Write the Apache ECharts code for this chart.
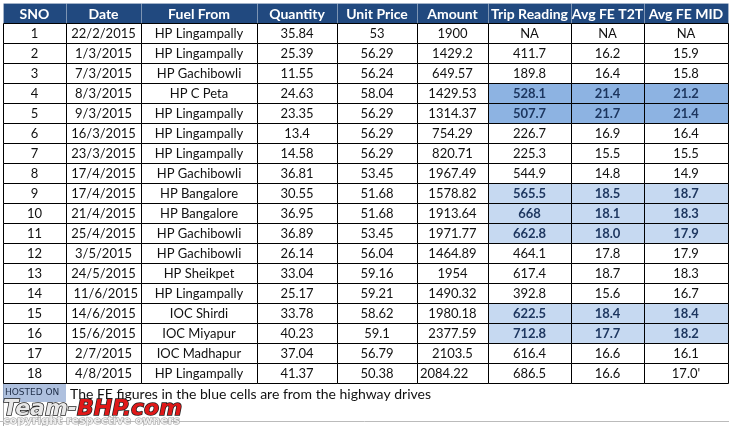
<!DOCTYPE html>
<html>
<head>
<meta charset="utf-8">
<title>Fuel log</title>
<script src="https://cdn.jsdelivr.net/npm/echarts@6/dist/echarts.min.js"></script>
<style>
  html, body { margin: 0; padding: 0; background: #fff; }
  #chart { width: 729px; height: 426px; }
</style>
</head>
<body>
<div id="chart"></div>
<script>
  // table data
  var headers = ['SNO', 'Date', 'Fuel From', 'Quantity', 'Unit Price', 'Amount', 'Trip Reading', 'Avg FE T2T', 'Avg FE MID'];
  var sno = ['1','2','3','4','5','6','7','8','9','10','11','12','13','14','15','16','17','18'];
  var dates = ['22/2/2015','1/3/2015','7/3/2015','8/3/2015','9/3/2015','16/3/2015','23/3/2015','17/4/2015','17/4/2015',
    '21/4/2015','25/4/2015','3/5/2015','24/5/2015','11/6/2015','14/6/2015','15/6/2015','2/7/2015','4/8/2015'];
  var fuelFrom = ['HP Lingampally','HP Lingampally','HP Gachibowli','HP C Peta','HP Lingampally','HP Lingampally',
    'HP Lingampally','HP Gachibowli','HP Bangalore','HP Bangalore','HP Gachibowli','HP Gachibowli','HP Sheikpet',
    'HP Lingampally','IOC Shirdi','IOC Miyapur','IOC Madhapur','HP Lingampally'];
  var quantity = ['35.84','25.39','11.55','24.63','23.35','13.4','14.58','36.81','30.55','36.95','36.89','26.14',
    '33.04','25.17','33.78','40.23','37.04','41.37'];
  var unitPrice = ['53','56.29','56.24','58.04','56.29','56.29','56.29','53.45','51.68','51.68','53.45','56.04',
    '59.16','59.21','58.62','59.1','56.79','50.38'];
  var amount = ['1900','1429.2','649.57','1429.53','1314.37','754.29','820.71','1967.49','1578.82','1913.64',
    '1971.77','1464.89','1954','1490.32','1980.18','2377.59','2103.5','2084.22'];
  var tripReading = ['NA','411.7','189.8','528.1','507.7','226.7','225.3','544.9','565.5','668','662.8','464.1',
    '617.4','392.8','622.5','712.8','616.4','686.5'];
  var avgFeT2T = ['NA','16.2','16.4','21.4','21.7','16.9','15.5','14.8','18.5','18.1','18.0','17.8','18.7','15.6',
    '18.4','17.7','16.6','16.6'];
  var avgFeMid = ['NA','15.9','15.8','21.2','21.4','16.4','15.5','14.9','18.7','18.3','17.9','17.9','18.3','16.7',
    '18.4','18.2','16.1',"17.0'"];

  // rows (by SNO) whose FE cells are shaded blue
  var highwayDark = [4, 5];
  var highwayLight = [9, 10, 11, 15, 16];
  var note = 'The FE figures in the blue cells are from the highway drives';

  var columns = [sno, dates, fuelFrom, quantity, unitPrice, amount, tripReading, avgFeT2T, avgFeMid];

  // layout: column edges in px, from table left
  var colEdges = [0, 63, 138, 254, 334, 414, 485, 568, 641, 725];
  // excel alignment quirks  "row,col"
  var alignFix = { '14,1': 'right', '18,5': 'left' };

  var cells = [];
  for (var r = 0; r <= sno.length; r++) {
    for (var c = 0; c < headers.length; c++) {
      cells.push([c, r]);
    }
  }

  function renderCell(params, api) {
    var col = api.value(0), row = api.value(1);
    var p0 = api.coord([colEdges[col], row]);
    var p1 = api.coord([colEdges[col + 1], row + 1]);
    var x0 = Math.round(p0[0]), y0 = Math.round(p0[1]);
    var x1 = Math.round(p1[0]), y1 = Math.round(p1[1]);
    var text, fill = '#fff', stroke = '#000', color = '#111', font = '13px Lato';

    if (row === 0) {
      text = headers[col];
      fill = '#21497f';
      stroke = 'rgba(255,255,255,0.18)';
      color = '#fff';
      font = 'bold 14px Lato';
    } else {
      text = columns[col][row - 1];
      if (col >= 6 && highwayDark.indexOf(row) >= 0) {
        fill = '#8db3e2'; color = '#1c355e'; font = 'bold 13px Lato';
      } else if (col >= 6 && highwayLight.indexOf(row) >= 0) {
        fill = '#c6d9f1'; color = '#1c355e'; font = 'bold 13px Lato';
      }
    }

    var align = alignFix[row + ',' + col] || 'center';
    var tx = align === 'center' ? (x0 + x1) / 2 : (align === 'right' ? x1 - 3 : x0 + 3);

    return {
      type: 'group',
      children: [{
        type: 'rect',
        shape: { x: x0 + 0.5, y: y0 + 0.5, width: x1 - x0, height: y1 - y0 },
        style: { fill: fill, stroke: stroke, lineWidth: 1 }
      }, {
        type: 'text',
        x: tx,
        y: (y0 + y1) / 2 + 1,
        style: {
          text: text, fill: color, font: font,
          align: align, verticalAlign: 'middle'
        }
      }]
    };
  }

  var chart = echarts.init(document.getElementById('chart'));
  chart.setOption({
    backgroundColor: '#fff',
    animation: false,
    grid: { left: 3, top: 3, width: 725, height: 380 },
    xAxis: { type: 'value', min: 0, max: 725, show: false },
    yAxis: { type: 'value', min: 0, max: 19, inverse: true, show: false },
    series: [{
      type: 'custom',
      renderItem: renderCell,
      data: cells,
      silent: true
    }],
    graphic: [
      { type: 'line', shape: { x1: 3.5, y1: 383, x2: 3.5, y2: 426 }, style: { stroke: '#aaa', lineWidth: 1 } },
      { type: 'line', shape: { x1: 0, y1: 421.5, x2: 729, y2: 421.5 }, style: { stroke: '#bbb', lineWidth: 1 } },
      { type: 'line', shape: { x1: 78.5, y1: 422, x2: 78.5, y2: 426 }, style: { stroke: '#ccc', lineWidth: 1 } },
      { type: 'line', shape: { x1: 143.5, y1: 422, x2: 143.5, y2: 426 }, style: { stroke: '#ccc', lineWidth: 1 } },
      {
        type: 'text', x: 70, y: 394,
        style: { text: note, font: '14px Lato', fill: '#111', verticalAlign: 'middle' }
      },
      // watermark
      { type: 'rect', shape: { x: 3, y: 384, width: 63, height: 18 }, style: { fill: 'rgba(120,150,200,0.6)' } },
      {
        type: 'text', x: 5, y: 393,
        style: { text: 'HOSTED ON', font: '9px "DejaVu Sans"', fill: '#22304a', verticalAlign: 'middle' }
      },
      {
        type: 'text', x: 3, y: 409,
        style: {
          text: '{a|Team-}{b|BHP.com}', verticalAlign: 'middle',
          rich: {
            a: { font: 'italic bold 22px "DejaVu Sans"', fill: '#e8e8e8', stroke: '#222', lineWidth: 1.5 },
            b: { font: 'italic bold 22px "DejaVu Sans"', fill: '#e01818', stroke: '#222', lineWidth: 1.5 }
          }
        }
      },
      {
        type: 'text', x: 3, y: 421,
        style: {
          text: 'copyright respective owners', font: 'bold 11px "DejaVu Sans"',
          fill: '#eee', stroke: '#999', lineWidth: 1, verticalAlign: 'middle'
        }
      }
    ]
  });
</script>
</body>
</html>
